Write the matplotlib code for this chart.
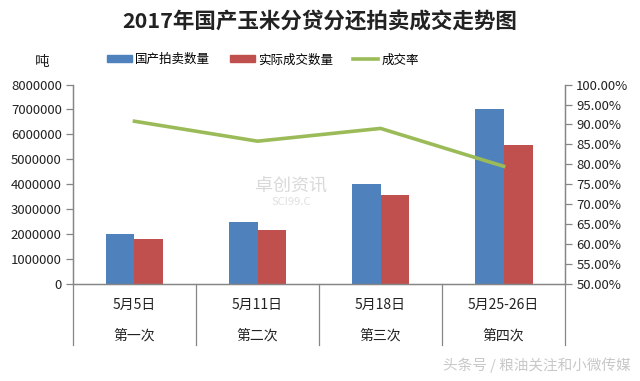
import matplotlib
matplotlib.use("Agg")
import matplotlib.pyplot as plt
from matplotlib.lines import Line2D
from matplotlib.patches import Patch
import numpy as np

plt.rcParams["font.family"] = ["Noto Sans CJK SC", "DejaVu Sans"]

# data
dates = ["5月5日", "5月11日", "5月18日", "5月25-26日"]
rounds = ["第一次", "第二次", "第三次", "第四次"]
auction_qty = [2000000, 2500000, 4000000, 7000000]
deal_qty = [1800000, 2150000, 3560000, 5560000]
deal_rate = [90.8, 85.8, 89.0, 79.5]

blue = "#4F81BD"
red = "#C0504D"
green = "#9BBB59"
axis_grey = "#868686"

fig = plt.figure(figsize=(6.4, 3.81), dpi=100)
ax = fig.add_axes([0.114, 0.255, 0.769, 0.523])
ax2 = ax.twinx()

x = np.arange(len(dates))
w = 0.235
ax.bar(x - w / 2, auction_qty, w, color=blue, zorder=2)
ax.bar(x + w / 2, deal_qty, w, color=red, zorder=2)
ax2.plot(x, deal_rate, color=green, lw=2.6, zorder=3)

ax.set_xlim(-0.5, len(dates) - 0.5)
ax.set_ylim(0, 8000000)
ax.set_yticks(np.arange(0, 8000001, 1000000))
ax.set_yticklabels([str(v) for v in range(0, 8000001, 1000000)])
ax2.set_ylim(50, 100)
ax2.set_yticks(np.arange(50, 100.1, 5))
ax2.set_yticklabels(["%.2f%%" % v for v in np.arange(50, 100.1, 5)])

for a in (ax, ax2):
    for s in a.spines.values():
        s.set_color(axis_grey)
        s.set_linewidth(0.9)
    a.spines["top"].set_visible(False)
    a.tick_params(axis="y", colors=axis_grey, labelcolor="#222222",
                  labelsize=9.5, length=5, width=0.9, pad=3)
ax.tick_params(axis="x", length=0, labelbottom=False)

# two-level category labels with separators
for i in range(len(dates)):
    ax.text(i, -0.105, dates[i], transform=ax.get_xaxis_transform(),
            ha="center", va="center", fontsize=10, color="#222222")
    ax.text(i, -0.26, rounds[i], transform=ax.get_xaxis_transform(),
            ha="center", va="center", fontsize=10, color="#222222")
for b in np.arange(-0.5, len(dates), 1):
    ax.add_line(Line2D([b, b], [0, -0.305], transform=ax.get_xaxis_transform(),
                       color=axis_grey, lw=0.9, clip_on=False))

fig.text(0.5, 0.942, "2017年国产玉米分贷分还拍卖成交走势图", ha="center", va="center",
         fontsize=15.5, fontweight="bold", color="#222222")
fig.text(0.066, 0.837, "吨", ha="center", va="center", fontsize=10.5, color="#222222")

handles = [Patch(color=blue), Patch(color=red), Line2D([], [], color=green, lw=2.6)]
fig.legend(handles, ["国产拍卖数量", "实际成交数量", "成交率"], loc="center",
           bbox_to_anchor=(0.411, 0.843), ncol=3, frameon=False, fontsize=9,
           handlelength=2.0, handleheight=0.5, columnspacing=1.6, handletextpad=0.25)

# watermarks
fig.text(0.455, 0.514, "卓创资讯", ha="center", va="center", fontsize=13,
         color="#d9d9d9", zorder=0)
fig.text(0.455, 0.47, "SCI99.C", ha="center", va="center", fontsize=8,
         color="#e0e0e0", zorder=0)
fig.text(0.985, 0.042, "头条号 / 粮油关注和小微传媒", ha="right", va="center",
         fontsize=10.5, color="#c8c8c8")

fig.savefig("out.png", dpi=100, facecolor="white")
